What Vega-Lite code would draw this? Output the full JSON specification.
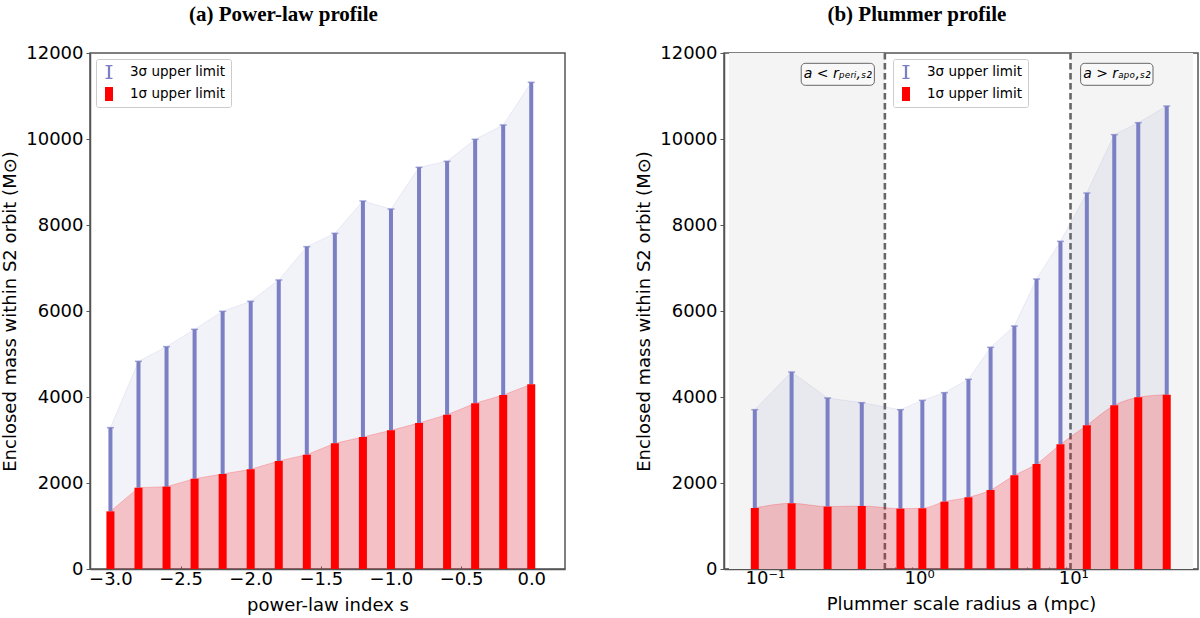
{
  "$schema": "https://vega.github.io/schema/vega-lite/v6.json",
  "background": "white",
  "padding": {"left": 0, "top": 3, "right": 0, "bottom": 0},
  "datasets": {
    "powerlaw": [
      {"s": -3.0, "m1": 1341, "m3": 3287},
      {"s": -2.8, "m1": 1891, "m3": 4829},
      {"s": -2.6, "m1": 1915, "m3": 5171},
      {"s": -2.4, "m1": 2101, "m3": 5574},
      {"s": -2.2, "m1": 2209, "m3": 5992},
      {"s": -2.0, "m1": 2318, "m3": 6225},
      {"s": -1.8, "m1": 2512, "m3": 6721},
      {"s": -1.6, "m1": 2659, "m3": 7496},
      {"s": -1.4, "m1": 2922, "m3": 7806},
      {"s": -1.2, "m1": 3070, "m3": 8558},
      {"s": -1.0, "m1": 3225, "m3": 8372},
      {"s": -0.8, "m1": 3395, "m3": 9341},
      {"s": -0.6, "m1": 3589, "m3": 9481},
      {"s": -0.4, "m1": 3853, "m3": 9992},
      {"s": -0.2, "m1": 4047, "m3": 10326},
      {"s": 0.0, "m1": 4295, "m3": 11318}
    ],
    "plummer": [
      {"a": 0.086, "m1": 1419, "m3": 3705},
      {"a": 0.149, "m1": 1527, "m3": 4581},
      {"a": 0.255, "m1": 1450, "m3": 3977},
      {"a": 0.425, "m1": 1465, "m3": 3868},
      {"a": 0.757, "m1": 1403, "m3": 3705},
      {"a": 1.05, "m1": 1411, "m3": 3922},
      {"a": 1.46, "m1": 1566, "m3": 4101},
      {"a": 2.09, "m1": 1667, "m3": 4411},
      {"a": 2.91, "m1": 1837, "m3": 5155},
      {"a": 4.15, "m1": 2178, "m3": 5651},
      {"a": 5.78, "m1": 2442, "m3": 6744},
      {"a": 8.26, "m1": 2899, "m3": 7620},
      {"a": 12.25, "m1": 3341, "m3": 8744},
      {"a": 18.45, "m1": 3806, "m3": 10101},
      {"a": 26.4, "m1": 3992, "m3": 10380},
      {"a": 40.4, "m1": 4054, "m3": 10767}
    ],
    "zones": [
      {"x1": 0.0585, "x2": 0.6},
      {"x1": 9.6, "x2": 59.8}
    ],
    "limits": [
      {"r": 0.6},
      {"r": 9.6}
    ],
    "notes": [
      {"x1": 0.172, "x2": 0.513, "xm": 0.297, "y1": 11249, "y2": 11760, "ym": 11505, "label": "a < rₚₑᵣᵢ,ₛ₂"},
      {"x1": 11.16, "x2": 32.9, "xm": 19.2, "y1": 11249, "y2": 11760, "ym": 11505, "label": "a > rₐₚₒ,ₛ₂"}
    ]
  },
  "config": {
    "view": {"stroke": "#555", "strokeWidth": 1.5},
    "concat": {"spacing": 68},
    "axis": {
      "labelFont": "DejaVu Sans", "labelFontSize": 18, "labelColor": "#000",
      "titleFont": "DejaVu Sans", "titleFontSize": 18, "titleFontWeight": "normal", "titleColor": "#000",
      "domainColor": "#555", "domainWidth": 1.5, "tickColor": "#555", "tickWidth": 1, "grid": false
    },
    "axisY": {"tickSize": 4, "labelPadding": 3, "titlePadding": 6},
    "axisX": {"labelPadding": 4, "titlePadding": 8},
    "legend": {
      "labelFont": "DejaVu Sans", "labelFontSize": 13.5, "labelColor": "#000",
      "fillColor": "white", "strokeColor": "#cccccc", "cornerRadius": 2,
      "padding": 6, "rowPadding": 8, "labelOffset": 14, "symbolSize": 196, "symbolStrokeWidth": 0, "symbolOpacity": 1
    },
    "title": {"font": "Liberation Serif", "fontSize": 21, "fontWeight": "bold", "color": "#000", "frame": "bounds", "anchor": "middle", "offset": 19}
  },
  "hconcat": [
    {
      "title": "(a)  Power-law profile",
      "width": 475,
      "height": 516,
      "data": {"name": "powerlaw"},
      "encoding": {
        "x": {"field": "s", "type": "quantitative",
              "scale": {"domain": [-3.11, 0.205], "nice": false, "zero": false},
              "axis": {"title": "power-law index s", "values": [-3, -2.5, -2, -1.5, -1, -0.5, 0],
                       "labelExpr": "replace(format(datum.value, '.1f'), '-', '−')", "tickSize": -3}},
        "y": {"type": "quantitative",
              "scale": {"domain": [0, 12000], "nice": false},
              "axis": {"title": "Enclosed mass within S2 orbit (M⊙)", "values": [0, 2000, 4000, 6000, 8000, 10000, 12000], "format": "d"}}
      },
      "layer": [
        {"mark": {"type": "area", "color": "#7b7fc4", "opacity": 0.1},
         "encoding": {"y": {"field": "m3", "type": "quantitative"}, "y2": {"datum": 0}}},
        {"mark": {"type": "line", "color": "#7b7fc4", "opacity": 0.12, "strokeWidth": 1},
         "encoding": {"y": {"field": "m3", "type": "quantitative"}}},
        {"mark": {"type": "area", "color": "#ff0000", "opacity": 0.2},
         "encoding": {"y": {"field": "m1", "type": "quantitative"}, "y2": {"datum": 0}}},
        {"mark": {"type": "line", "color": "#ff0000", "opacity": 0.2, "strokeWidth": 1},
         "encoding": {"y": {"field": "m1", "type": "quantitative"}}},
        {"mark": {"type": "rule", "color": "#7b7fc4", "strokeWidth": 4, "strokeCap": "butt"},
         "encoding": {"y": {"field": "m1", "type": "quantitative"}, "y2": {"field": "m3"}}},
        {"mark": {"type": "tick", "orient": "horizontal", "color": "#7b7fc4", "size": 7, "thickness": 1.5},
         "encoding": {"y": {"field": "m3", "type": "quantitative"}}},
        {"mark": {"type": "bar", "color": "#ff0000", "width": 8},
         "encoding": {"y": {"field": "m1", "type": "quantitative"}, "y2": {"datum": 0}}},
        {"transform": [{"fold": ["m3", "m1"], "as": ["key", "val"]}, {"filter": "datum.val < 0"}],
         "mark": {"type": "point", "filled": true},
         "encoding": {
           "y": {"field": "val", "type": "quantitative"},
           "color": {"field": "key", "type": "nominal",
                     "scale": {"domain": ["m3", "m1"], "range": ["#7b7fc4", "#ff0000"]},
                     "legend": {"title": null, "orient": "top-left", "offset": 6,
                                "labelExpr": "datum.value == 'm3' ? '3σ upper limit' : '1σ upper limit'"}},
           "shape": {"field": "key", "type": "nominal",
                     "scale": {"domain": ["m3", "m1"], "range": ["M-0.5,-1H0.5V-0.82H0.16V0.82H0.5V1H-0.5V0.82H-0.16V-0.82H-0.5Z", "M-0.57,-1H0.57V1H-0.57Z"]},
                     "legend": {"title": null, "orient": "top-left", "offset": 6,
                                "labelExpr": "datum.value == 'm3' ? '3σ upper limit' : '1σ upper limit'"}}
         }}
      ]
    },
    {
      "title": "(b) Plummer profile",
      "width": 474,
      "height": 516,
      "encoding": {
        "x": {"type": "quantitative",
              "scale": {"type": "log", "domain": [0.0585, 59.8], "nice": false},
              "axis": {"title": "Plummer scale radius a (mpc)",
                       "values": [0.06, 0.07, 0.08, 0.09, 0.1, 0.2, 0.3, 0.4, 0.5, 0.6, 0.7, 0.8, 0.9, 1, 2, 3, 4, 5, 6, 7, 8, 9, 10, 20, 30, 40, 50],
                       "labelExpr": "datum.value == 0.1 ? '10⁻¹' : datum.value == 1 ? '10⁰' : datum.value == 10 ? '10¹' : ''",
                       "tickSize": {"condition": {"test": "datum.value == 0.1 || datum.value == 1 || datum.value == 10", "value": -3.5}, "value": -2}}},
        "y": {"type": "quantitative",
              "scale": {"domain": [0, 12000], "nice": false},
              "axis": {"title": "Enclosed mass within S2 orbit (M⊙)", "values": [0, 2000, 4000, 6000, 8000, 10000, 12000], "format": "d"}}
      },
      "layer": [
        {"data": {"name": "zones"},
         "mark": {"type": "rect", "color": "#f4f4f4"},
         "encoding": {"x": {"field": "x1"}, "x2": {"field": "x2"}, "y": {"datum": 0}, "y2": {"datum": 12000}}},
        {"data": {"name": "limits"},
         "mark": {"type": "rule", "color": "#666666", "strokeWidth": 2.6, "strokeDash": [6.5, 3.5]},
         "encoding": {"x": {"field": "r"}}},
        {"data": {"name": "notes"},
         "mark": {"type": "rect", "fill": "#f8f8f8", "stroke": "#666", "strokeWidth": 1, "cornerRadius": 4},
         "encoding": {"x": {"field": "x1"}, "x2": {"field": "x2"}, "y": {"field": "y1"}, "y2": {"field": "y2"}}},
        {"data": {"name": "notes"},
         "mark": {"type": "text", "font": "DejaVu Sans", "fontSize": 14, "fontStyle": "italic", "color": "#000", "align": "center", "baseline": "middle"},
         "encoding": {"x": {"field": "xm"}, "y": {"field": "ym"}, "text": {"field": "label"}}},
        {"data": {"name": "plummer"},
         "layer": [
           {"mark": {"type": "area", "color": "#7b7fc4", "opacity": 0.1},
            "encoding": {"x": {"field": "a"}, "y": {"field": "m3"}, "y2": {"datum": 0}}},
           {"mark": {"type": "line", "color": "#7b7fc4", "opacity": 0.12, "strokeWidth": 1},
            "encoding": {"x": {"field": "a"}, "y": {"field": "m3"}}},
           {"mark": {"type": "area", "color": "#ff0000", "opacity": 0.2, "interpolate": "monotone"},
            "encoding": {"x": {"field": "a"}, "y": {"field": "m1"}, "y2": {"datum": 0}}},
           {"mark": {"type": "line", "color": "#ff0000", "opacity": 0.2, "strokeWidth": 1, "interpolate": "monotone"},
            "encoding": {"x": {"field": "a"}, "y": {"field": "m1"}}},
           {"mark": {"type": "rule", "color": "#7b7fc4", "strokeWidth": 4, "strokeCap": "butt"},
            "encoding": {"x": {"field": "a"}, "y": {"field": "m1"}, "y2": {"field": "m3"}}},
           {"mark": {"type": "tick", "orient": "horizontal", "color": "#7b7fc4", "size": 7, "thickness": 1.5},
            "encoding": {"x": {"field": "a"}, "y": {"field": "m3"}}},
           {"mark": {"type": "bar", "color": "#ff0000", "width": 8},
            "encoding": {"x": {"field": "a"}, "y": {"field": "m1"}, "y2": {"datum": 0}}},
           {"transform": [{"fold": ["m3", "m1"], "as": ["key", "val"]}, {"filter": "datum.val < 0"}],
            "mark": {"type": "point", "filled": true},
            "encoding": {
              "x": {"field": "a"},
              "y": {"field": "val", "type": "quantitative"},
              "color": {"field": "key", "type": "nominal",
                        "scale": {"domain": ["m3", "m1"], "range": ["#7b7fc4", "#ff0000"]},
                        "legend": {"title": null, "orient": "none", "legendX": 169, "legendY": 6,
                                   "labelExpr": "datum.value == 'm3' ? '3σ upper limit' : '1σ upper limit'"}},
              "shape": {"field": "key", "type": "nominal",
                        "scale": {"domain": ["m3", "m1"], "range": ["M-0.5,-1H0.5V-0.82H0.16V0.82H0.5V1H-0.5V0.82H-0.16V-0.82H-0.5Z", "M-0.57,-1H0.57V1H-0.57Z"]},
                        "legend": {"title": null, "orient": "none", "legendX": 169, "legendY": 6,
                                   "labelExpr": "datum.value == 'm3' ? '3σ upper limit' : '1σ upper limit'"}}
            }}
         ]}
      ]
    }
  ],
  "resolve": {"scale": {"color": "independent", "shape": "independent"}, "legend": {"color": "independent", "shape": "independent"}}
}
